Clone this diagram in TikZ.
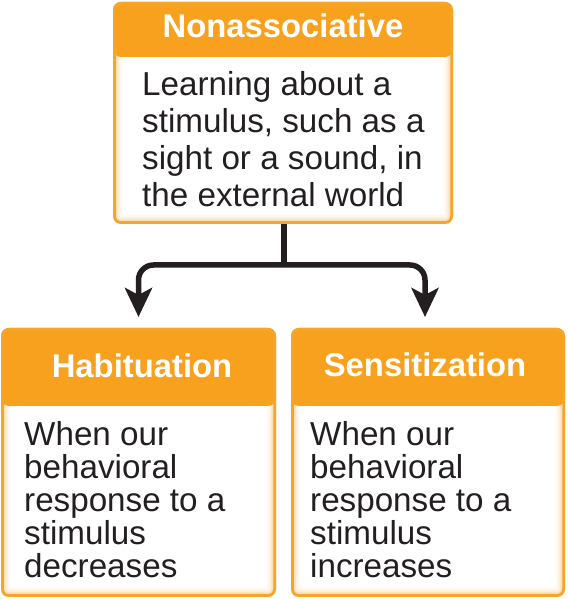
\documentclass[tikz,border=0pt]{standalone}
\usepackage{fontspec}
\setmainfont{Liberation Sans}
\usetikzlibrary{arrows.meta}
\definecolor{hdr}{RGB}{247,161,30}
\definecolor{bord}{RGB}{245,166,42}
\definecolor{ink}{RGB}{35,31,32}
\tikzset{
  orbox/.style={draw=none, fill=white, rounded corners=8pt, inner sep=0pt, outer sep=0pt,
    path picture={
      \draw[bord!8, line width=18pt, rounded corners=8pt]
        (path picture bounding box.south west) rectangle (path picture bounding box.north east);
      \draw[bord!18, line width=13pt, rounded corners=8pt]
        (path picture bounding box.south west) rectangle (path picture bounding box.north east);
      \draw[bord!35, line width=9pt, rounded corners=8pt]
        (path picture bounding box.south west) rectangle (path picture bounding box.north east);
      \fill[hdr] (path picture bounding box.north west) rectangle ([yshift=-#1]path picture bounding box.north east);
      \draw[bord, line width=5.5pt, rounded corners=8pt]
        (path picture bounding box.south west) rectangle (path picture bounding box.north east);
    }},
  hdrtxt/.style={anchor=base, inner sep=0pt, text=white, font=\bfseries\fontsize{32.8}{36}\selectfont},
  bodytopt/.style={anchor=north west, inner sep=0pt, align=left, text=ink, font=\fontsize{33.2}{37}\selectfont},
  bodybott/.style={anchor=north west, inner sep=0pt, align=left, text=ink, font=\fontsize{33.2}{32.8}\selectfont},
  conn/.style={draw=ink, line width=5.5pt},
  tip/.tip={Stealth[length=29pt, width=27pt, inset=7pt]}
}
\begin{document}
\begin{tikzpicture}[x=1pt, y=1pt]
\useasboundingbox (0,0) rectangle (567,599);
\fill[white] (0,0) rectangle (567,599);

\node[orbox=55pt, minimum width=340pt, minimum height=222pt] (top) at (283,486) {};
\node[orbox=78pt, minimum width=275pt, minimum height=269pt] (hab) at (138.5,136.5) {};
\node[orbox=78pt, minimum width=274pt, minimum height=269pt] (sens) at (428,136.5) {};

\node[hdrtxt] (topt) at (283,561) {Nonassociative};
\node[hdrtxt] (habt) at (142,221) {Habituation};
\node[hdrtxt] (senst) at (425,222) {Sensitization};

\node[bodytopt] (topb) at (142,527.3) {Learning about a\\stimulus, such as a\\sight or a sound, in\\the external world};
\node[bodybott] (habb) at (24,177.3) {When our\\behavioral\\response to a\\stimulus\\decreases};
\node[bodybott] (sensb) at (310,177.3) {When our\\behavioral\\response to a\\stimulus\\increases};

\coordinate (j) at (284,334);
\draw[conn] ([xshift=1pt]top.south) -- ([xshift=1pt]top.south |- j);
\draw[conn, tip-tip, rounded corners=15pt, shorten <=11pt, shorten >=11pt]
  (hab.north) -- (hab.north |- j) -- ([xshift=-3pt]sens.north |- j) -- ([xshift=-3pt]sens.north);
\end{tikzpicture}
\end{document}
